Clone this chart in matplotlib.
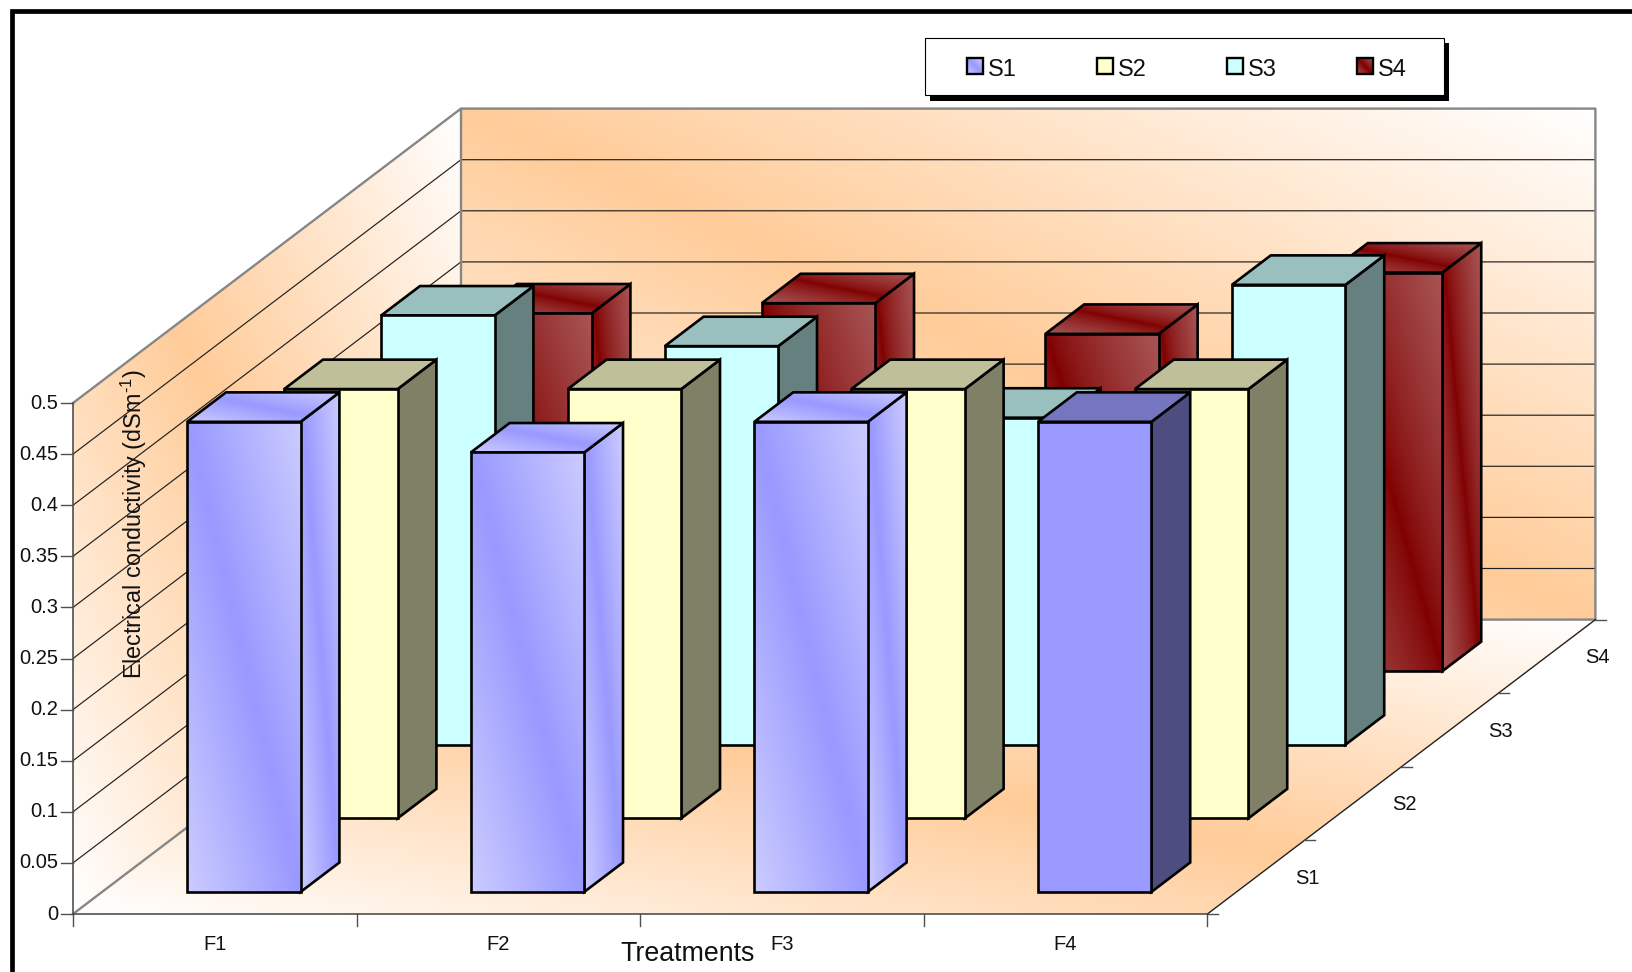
import numpy as np
import matplotlib
matplotlib.use("Agg")
import matplotlib.pyplot as plt
from matplotlib.patches import Polygon, Rectangle
from matplotlib.colors import to_rgb

plt.rcParams['font.family'] = ['Liberation Sans', 'DejaVu Sans']
plt.rcParams['mathtext.fontset'] = 'custom'
plt.rcParams['mathtext.rm'] = 'Liberation Sans'
plt.rcParams['mathtext.default'] = 'regular'

treatments = ["F1", "F2", "F3", "F4"]
series_names = ["S1", "S2", "S3", "S4"]
s1 = [0.46, 0.43, 0.46, 0.46]
s2 = [0.42, 0.42, 0.42, 0.42]
s3 = [0.42, 0.39, 0.32, 0.45]
s4 = [0.35, 0.36, 0.33, 0.39]
y_ticks = [0, 0.05, 0.1, 0.15, 0.2, 0.25, 0.3, 0.35, 0.4, 0.45, 0.5]
y_labels = ["0", "0.05", "0.1", "0.15", "0.2", "0.25", "0.3", "0.35", "0.4", "0.45", "0.5"]

# oblique projection, in pixels of the picture
ORIGIN = (73.0, 914.0)
CELL_W = 283.6
DEPTH = (97.0, -73.6)
PX_PER_UNIT = 1022.0


def proj(f, s, v=0.0):
    return (ORIGIN[0] + f * CELL_W + s * DEPTH[0],
            ORIGIN[1] + s * DEPTH[1] - v * PX_PER_UNIT)


fig = plt.figure(figsize=(16.32, 9.72), dpi=100)
ax = fig.add_axes([0, 0, 1, 1])
order = [10]


def next_z():
    order[0] += 1
    return order[0]


def grad_face(pts, center, edge, lw=0.0, gamma=1.0):
    # diagonal band from top left to bottom right of the face's bounding box
    pts = np.array(pts)
    x0, y0 = pts.min(axis=0)
    x1, y1 = pts.max(axis=0)
    u, v = np.meshgrid(np.linspace(0, 1, 160), np.linspace(0, 1, 160))
    t = (np.abs(u - v) ** gamma)[..., None]
    img = np.array(to_rgb(center)) * (1 - t) + np.array(to_rgb(edge)) * t
    im = ax.imshow(img, extent=(x0, x1, y1, y0), aspect="auto",
                   interpolation="bilinear", zorder=next_z())
    im.set_clip_path(Polygon(pts, closed=True, transform=ax.transData))
    if lw > 0:
        ax.add_patch(Polygon(pts, closed=True, fill=False, ec="k", lw=lw,
                             joinstyle="miter", zorder=next_z()))


def flat_face(pts, color, lw=1.9):
    ax.add_patch(Polygon(pts, closed=True, fc=color, ec="k", lw=lw,
                         joinstyle="miter", zorder=next_z()))


def draw_bar(f, s, value, style):
    a, b = f + 0.3, f + 0.7
    c, d = s + 0.3, s + 0.7
    front = [proj(a, c, 0), proj(b, c, 0), proj(b, c, value), proj(a, c, value)]
    side = [proj(b, c, 0), proj(b, d, 0), proj(b, d, value), proj(b, c, value)]
    top = [proj(a, c, value), proj(b, c, value), proj(b, d, value), proj(a, d, value)]
    if style["grad"]:
        for pts in (side, top, front):
            grad_face(pts, style["center"], style["edge"], lw=1.9, gamma=style["gamma"])
    else:
        flat_face(side, style["side"])
        flat_face(top, style["top"])
        flat_face(front, style["front"])


# walls and floor
WALL = "#FFCC99"
grad_face([proj(0, 0), proj(0, 4), proj(0, 4, 0.5), proj(0, 0, 0.5)], WALL, "#FFFFFF")
grad_face([proj(0, 4), proj(4, 4), proj(4, 4, 0.5), proj(0, 4, 0.5)], WALL, "#FFFFFF")
grad_face([proj(0, 0), proj(4, 0), proj(4, 4), proj(0, 4)], WALL, "#FFFFFF")

# gridlines
for v in y_ticks[1:-1]:
    p = [proj(0, 0, v), proj(0, 4, v), proj(4, 4, v)]
    ax.plot(*zip(*p), color="#202020", lw=0.85, zorder=next_z())

GRAY = "#868686"
ax.plot(*zip(proj(0, 0, 0.5), proj(0, 4, 0.5), proj(4, 4, 0.5), proj(4, 4, 0), proj(0, 4, 0), proj(0, 0)),
        color=GRAY, lw=1.7, zorder=next_z())
ax.plot(*zip(proj(0, 4, 0), proj(0, 4, 0.5)), color=GRAY, lw=1.7, zorder=next_z())

# axes lines and ticks
AX = "#505050"
ax.plot(*zip(proj(0, 0), proj(0, 0, 0.5)), color=AX, lw=1.2, zorder=next_z())
ax.plot(*zip(proj(0, 0), proj(4, 0)), color=AX, lw=1.2, zorder=next_z())
ax.plot(*zip(proj(4, 0), proj(4, 4)), color="#202020", lw=1.0, zorder=next_z())

for v, lab in zip(y_ticks, y_labels):
    x, y = proj(0, 0, v)
    ax.plot([x - 12, x], [y, y], color=AX, lw=1.0, zorder=next_z())
    ax.text(x - 15, y, lab, ha="right", va="center", fontsize=14.5, color="#111111", zorder=200)

for i in range(5):
    x, y = proj(i, 0)
    ax.plot([x, x], [y, y + 12], color=AX, lw=1.0, zorder=next_z())
for i, lab in enumerate(treatments):
    x, y = proj(i + 0.5, 0)
    ax.text(x, y + 30, lab, ha="center", va="center", fontsize=14.5, color="#111111", zorder=200)

for i in range(5):
    x, y = proj(4, i)
    ax.plot([x, x + 11], [y, y], color=AX, lw=1.0, zorder=next_z())
for i, lab in enumerate(series_names):
    x, y = proj(4, i + 0.5)
    ax.text(x + 51, y + 1, lab, ha="center", va="center", fontsize=14.5, color="#111111", zorder=200)

# bars, back row first
s1_grad = {"grad": True, "center": "#9999FF", "edge": "#CCCCFF", "gamma": 1.0}
s1_flat = {"grad": False, "front": "#9999FF", "side": "#4D4D80", "top": "#7676C0"}
s2_flat = {"grad": False, "front": "#FFFFCC", "side": "#808066", "top": "#BFBF99"}
s3_flat = {"grad": False, "front": "#CCFFFF", "side": "#668080", "top": "#99BFBF"}
s4_grad = {"grad": True, "center": "#800000", "edge": "#A85555", "gamma": 0.75}

rows = [s1, s2, s3, s4]
styles = [[s1_grad, s1_grad, s1_grad, s1_flat], [s2_flat] * 4, [s3_flat] * 4, [s4_grad] * 4]
for s in (3, 2, 1, 0):
    for f in range(4):
        draw_bar(f, s, rows[s][f], styles[s][f])

# axis titles
ax.text(134, 524, r"Electrical conductivity (dSm$^{\text{-}1}$)", rotation=90, ha="center", va="center",
        fontsize=16.8, color="#111111", zorder=200)
ax.text(688, 954, "Treatments", ha="center", va="center", fontsize=19.3, color="#111111", zorder=200)

# legend
ax.add_patch(Rectangle((930, 43), 519, 58, fc="k", ec="k", lw=0, zorder=300))
ax.add_patch(Rectangle((925, 38.5), 519, 57, fc="white", ec="k", lw=0.8, zorder=301))
swatches = [("#9999FF", "#CCCCFF"), ("#FFFFCC", "#FFFFCC"), ("#CCFFFF", "#CCFFFF"), ("#800000", "#A85555")]
order[0] = 310
for i, lab in enumerate(series_names):
    x = 967 + 130 * i
    pts = [(x, 58.5), (x + 15.5, 58.5), (x + 15.5, 74.5), (x, 74.5)]
    grad_face(pts, swatches[i][0], swatches[i][1], lw=1.7)
    ax.text(x + 21, 70, lab, ha="left", va="center", fontsize=17, color="#111111", zorder=400)

# outer frame, runs off the picture at right and bottom
ax.plot([12, 12, 1640], [985, 11.5, 11.5], color="k", lw=3.4, solid_joinstyle="miter", zorder=500)

ax.set_xlim(0, 1632)
ax.set_ylim(972, 0)
ax.axis("off")
fig.savefig("out.png", dpi=100)
